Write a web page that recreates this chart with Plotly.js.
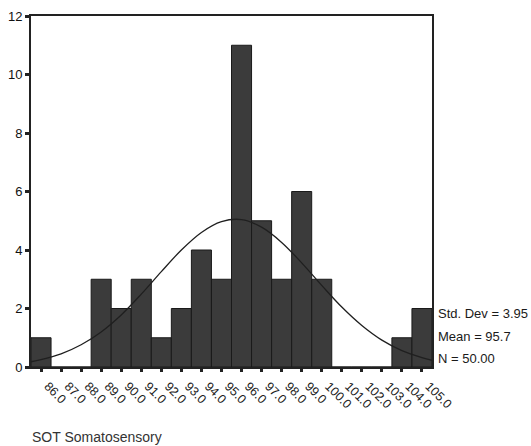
<!DOCTYPE html>
<html>
<head>
<meta charset="utf-8">
<script src="https://cdn.plot.ly/plotly-3.0.1.min.js"></script>
<style>html,body{margin:0;padding:0;background:#fff;}#chart{width:531px;height:446px;}</style>
</head>
<body>
<div id="chart"></div>
<script>
// Histogram bins (SOT Somatosensory score) and counts
const binCenters = [86,87,88,89,90,91,92,93,94,95,96,97,98,99,100,101,102,103,104,105];
const counts     = [1, 0, 0, 3, 2, 3, 1, 2, 4, 3, 11, 5, 3, 6, 3, 0, 0, 0, 1, 2];
const tickLabels = ["86.0","87.0","88.0","89.0","90.0","91.0","92.0","93.0","94.0","95.0","96.0","97.0","98.0","99.0","100.0","101.0","102.0","103.0","104.0","105.0"];
const yTicks = [0,2,4,6,8,10,12];
// Normal curve
const curveX = [85.5,86,87,88,89,90,91,92,93,94,95,96,97,98,99,100,101,102,103,104,105,105.5];
const curveY = [0.18,0.25,0.45,0.76,1.2,1.78,2.49,3.26,4.0,4.6,4.97,5.04,4.78,4.26,3.56,2.79,2.05,1.42,0.92,0.56,0.32,0.23];
const statLines = ["Std. Dev = 3.95","Mean = 95.7","N = 50.00"];
const axisTitle = "SOT Somatosensory";

const W = 531, H = 446;
const L = 31, R = 432, T = 16, B = 367;
const FONT = 'Liberation Sans, Arial, sans-serif';

const traces = [
  {type:'bar', x:binCenters, y:counts, width:1,
   marker:{color:'#3b3b3b', line:{color:'#1a1a1a', width:1}}, hoverinfo:'x+y'},
  {type:'scatter', mode:'lines', x:curveX, y:curveY, line:{color:'#1f1f1f', width:1.3, shape:'spline'}, hoverinfo:'skip'}
];

const statY = [313, 336, 358];
const annotations = statLines.map((t,i)=>({
  xref:'paper', yref:'paper', x:(436-L)/(R-L), y:1-(statY[i]-T)/(B-T),
  xanchor:'left', yanchor:'middle', text:t, showarrow:false,
  font:{family:FONT, size:13, color:'#1a1a1a'}
}));
annotations.push({
  xref:'paper', yref:'paper', x:(30-L)/(R-L), y:1-(437-T)/(B-T),
  xanchor:'left', yanchor:'middle', text:axisTitle, showarrow:false,
  font:{family:FONT, size:14, color:'#333'}
});

const layout = {
  width:W, height:H,
  margin:{l:L, r:W-R, t:T, b:H-B, pad:0},
  paper_bgcolor:'#fff', plot_bgcolor:'#fff',
  showlegend:false, bargap:0,
  font:{family:FONT, color:'#222'},
  xaxis:{range:[85.5,105.5], tickvals:binCenters, ticktext:tickLabels, tickangle:45,
    ticklabelshift:7, ticklabelstandoff:2,
    showgrid:false, zeroline:false, showline:true, linecolor:'#222', linewidth:2, mirror:true,
    ticks:'outside', ticklen:3, tickwidth:3, tickcolor:'#222',
    tickfont:{family:FONT, size:12.5, color:'#1a1a1a'}, fixedrange:true},
  yaxis:{range:[0,12], tickvals:yTicks, showgrid:false, zeroline:false,
    showline:true, linecolor:'#222', linewidth:2, mirror:true,
    ticks:'outside', ticklen:4, tickwidth:3, tickcolor:'#222',
    tickfont:{family:FONT, size:13, color:'#111'}, fixedrange:true},
  annotations:annotations
};
Plotly.newPlot('chart', traces, layout, {displayModeBar:false, staticPlot:true});
</script>
</body>
</html>
